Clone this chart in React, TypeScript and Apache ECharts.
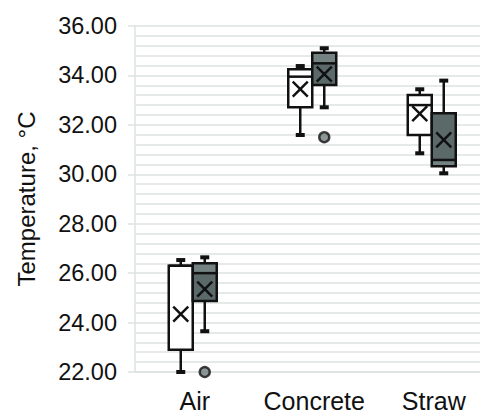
import React, { useEffect, useRef } from "react";
import * as echarts from "echarts";

const categories = ["Air", "Concrete", "Straw"];
// [min, Q1, median, Q3, max, mean]
const seriesA = [
  [22.0, 22.9, 26.3, 26.3, 26.53, 24.34],
  [31.59, 32.71, 33.95, 34.25, 34.38, 33.45],
  [30.85, 31.59, 32.8, 33.21, 33.44, 32.45],
];
const seriesB = [
  [23.65, 24.87, 26.0, 26.4, 26.64, 25.35],
  [32.71, 33.61, 34.49, 34.92, 35.1, 34.05],
  [30.04, 30.33, 30.58, 32.47, 33.79, 31.39],
];
const outliersB = [
  [0, 22.0],
  [1, 31.5],
];
const yTicks = { min: 22, max: 36, interval: 2 };

const FONT = "'Liberation Sans', Arial, sans-serif";
const GRID = "#dde3e2";

function makeRender(offset: number, fillMain: string, fillLight: string) {
  return (params: any, api: any) => {
    const cat = api.value(0);
    const vmin = api.value(1);
    const q1 = api.value(2);
    const med = api.value(3);
    const q3 = api.value(4);
    const vmax = api.value(5);
    const mean = api.value(6);
    const cx = api.coord([cat, q1])[0] + offset;
    const y = (v: number) => api.coord([cat, v])[1];
    const w = 24;
    const lw = 2.5;
    const yq1 = y(q1), yq3 = y(q3), ymed = y(med), ymin = y(vmin), ymax = y(vmax), ymean = y(mean);
    const upperH = ymed - yq3;
    const lowerH = yq1 - ymed;
    const upperFill = upperH < lowerH ? fillLight : fillMain;
    const lowerFill = upperH < lowerH ? fillMain : fillLight;
    const stroke = { stroke: "#111", lineWidth: lw };
    const children: any[] = [
      { type: "line", shape: { x1: cx, y1: yq3, x2: cx, y2: ymax }, style: stroke },
      { type: "line", shape: { x1: cx, y1: yq1, x2: cx, y2: ymin }, style: stroke },
      { type: "rect", shape: { x: cx - 4.5, y: ymax - 2, width: 9, height: 4 }, style: { fill: "#111" } },
      { type: "rect", shape: { x: cx - 4.5, y: ymin - 2, width: 9, height: 4 }, style: { fill: "#111" } },
      { type: "rect", shape: { x: cx - w / 2, y: yq3, width: w, height: upperH }, style: { fill: upperFill } },
      { type: "rect", shape: { x: cx - w / 2, y: ymed, width: w, height: lowerH }, style: { fill: lowerFill } },
      { type: "rect", shape: { x: cx - w / 2, y: yq3, width: w, height: yq1 - yq3 }, style: { fill: "none", ...stroke } },
      { type: "line", shape: { x1: cx - w / 2, y1: ymed, x2: cx + w / 2, y2: ymed }, style: stroke },
      { type: "line", shape: { x1: cx - 7.5, y1: ymean - 7.5, x2: cx + 7.5, y2: ymean + 7.5 }, style: stroke },
      { type: "line", shape: { x1: cx - 7.5, y1: ymean + 7.5, x2: cx + 7.5, y2: ymean - 7.5 }, style: stroke },
    ];
    return { type: "group", children };
  };
}

export default function App() {
  const ref = useRef<HTMLDivElement>(null);
  useEffect(() => {
    if (!ref.current) return;
    const chart = echarts.init(ref.current, null, { renderer: "svg" });
    chart.setOption({
      animation: false,
      textStyle: { fontFamily: FONT },
      grid: { left: 135, top: 26, right: -13.5, bottom: 44, outerBoundsMode: "none", containLabel: false },
      xAxis: {
        type: "category",
        data: categories,
        axisLine: { show: true, lineStyle: { color: GRID, width: 1.5 } },
        axisTick: { show: false },
        axisLabel: { fontSize: 25, color: "#111", margin: 16, fontFamily: FONT, interval: 0, hideOverlap: false },
        splitLine: { show: false },
      },
      yAxis: {
        type: "value",
        min: yTicks.min,
        max: yTicks.max,
        interval: yTicks.interval,
        axisLine: { show: true, lineStyle: { color: GRID, width: 1.5 } },
        axisTick: { show: true, length: 7, lineStyle: { color: GRID, width: 1.5 } },
        axisLabel: {
          fontSize: 23.5,
          color: "#111",
          margin: 18,
          fontFamily: FONT,
          formatter: (v: number) => v.toFixed(2),
        },
        splitLine: { show: true, lineStyle: { color: GRID, width: 1.5 } },
        minorTick: { show: false, splitNumber: 5 },
        minorSplitLine: { show: true, lineStyle: { color: GRID, width: 1.5 } },
        name: "Temperature, °C",
        nameLocation: "middle",
        nameRotate: 90,
        nameGap: 97,
        nameTextStyle: { fontSize: 24, color: "#111", fontFamily: FONT },
      },
      series: [
        {
          type: "custom",
          renderItem: makeRender(-14, "#ffffff", "#ffffff"),
          data: seriesA.map((d, i) => [i, ...d]),
          encode: { x: 0, y: [1, 2, 3, 4, 5, 6] },
          clip: false,
          z: 3,
        },
        {
          type: "custom",
          renderItem: makeRender(10, "#5b6969", "#748282"),
          data: seriesB.map((d, i) => [i, ...d]),
          encode: { x: 0, y: [1, 2, 3, 4, 5, 6] },
          clip: false,
          z: 3,
        },
        {
          type: "scatter",
          data: outliersB,
          symbol: "circle",
          symbolSize: 10,
          symbolOffset: [10, 0],
          itemStyle: { color: "#6f7c7c", borderColor: "#111", borderWidth: 2.4 },
          z: 4,
        },
      ],
    });
    return () => chart.dispose();
  }, []);
  return <div ref={ref} style={{ width: 480, height: 416, position: "absolute", left: 0, top: 0 }} />;
}
